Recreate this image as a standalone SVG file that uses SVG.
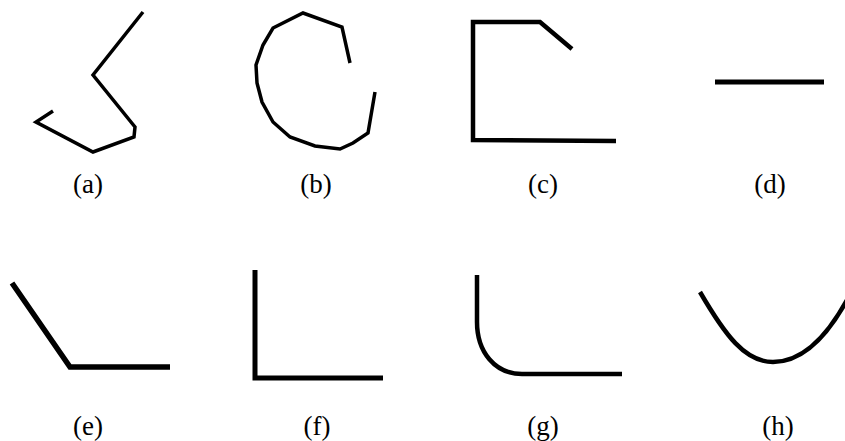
<svg xmlns="http://www.w3.org/2000/svg" width="845" height="441" viewBox="0 0 845 441">
<style>
.s{fill:none;stroke:#000;stroke-linejoin:miter;stroke-linecap:butt}
.t{font-family:'Liberation Serif','Times New Roman',Times,serif;font-size:27px;text-anchor:middle;fill:#000}
</style>
<rect width="845" height="441" fill="#fff"/>
<g id="a"><polyline class="s" stroke-width="3.5" points="143,12 93,75 135,127 134,137 93,152 36,122 53,111"/><text class="t" font-family="Liberation Serif, serif" x="88" y="193">(a)</text></g>
<g id="b"><polyline class="s" stroke-width="3.5" points="350,63 342,27 303,13 273,28 263,45 256,65 257,83 262,102 273,122 290,137 315,146 340,149 353,143 368,133 375,92"/><text class="t" font-family="Liberation Serif, serif" x="316" y="193">(b)</text></g>
<g id="c"><polyline class="s" stroke-width="4.5" points="572,49 540,22 473,22 473,140 616,141"/><text class="t" font-family="Liberation Serif, serif" x="543" y="193">(c)</text></g>
<g id="d"><line class="s" stroke-width="5" x1="715" y1="82" x2="824" y2="82"/><text class="t" font-family="Liberation Serif, serif" x="770" y="193">(d)</text></g>
<g id="e"><polyline class="s" stroke-width="5.5" points="12,283 70,367 170,367"/><text class="t" font-family="Liberation Serif, serif" x="88" y="435">(e)</text></g>
<g id="f"><polyline class="s" stroke-width="5" points="255,270 255,378 383,378"/><text class="t" font-family="Liberation Serif, serif" x="317" y="435">(f)</text></g>
<g id="g"><path class="s" stroke-width="4.5" d="M477,275 L477,322 C477,352 495,374 522,374 L622,374"/><text class="t" font-family="Liberation Serif, serif" x="543" y="435">(g)</text></g>
<g id="h"><path class="s" stroke-width="4.5" d="M700,292 C725,335 745,362 773,362 C800,362 825,340 847,300"/><text class="t" font-family="Liberation Serif, serif" x="778" y="435">(h)</text></g>
</svg>
